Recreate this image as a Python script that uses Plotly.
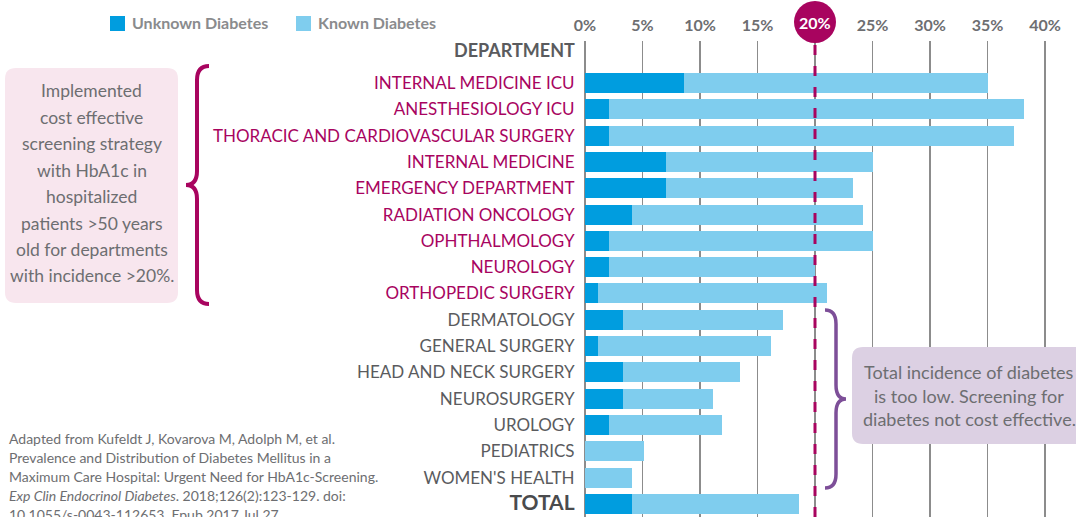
import plotly.graph_objects as go

departments = [
    "INTERNAL MEDICINE ICU", "ANESTHESIOLOGY ICU", "THORACIC AND CARDIOVASCULAR SURGERY",
    "INTERNAL MEDICINE", "EMERGENCY DEPARTMENT", "RADIATION ONCOLOGY", "OPHTHALMOLOGY",
    "NEUROLOGY", "ORTHOPEDIC SURGERY", "DERMATOLOGY", "GENERAL SURGERY",
    "HEAD AND NECK SURGERY", "NEUROSURGERY", "UROLOGY", "PEDIATRICS", "WOMEN'S HEALTH", "TOTAL",
]
unknown = [8.6, 2.1, 2.1, 7.0, 7.0, 4.1, 2.1, 2.1, 1.1, 3.3, 1.1, 3.3, 3.3, 2.1, 0.0, 0.0, 4.1]
total = [35.0, 38.2, 37.3, 25.0, 23.3, 24.2, 25.0, 20.0, 21.0, 17.2, 16.2, 13.5, 11.1, 11.9, 5.1, 4.1, 18.6]
known = [round(t - u, 2) for t, u in zip(total, unknown)]
above_threshold = [True] * 9 + [False] * 8
x_ticks = [0, 5, 10, 15, 20, 25, 30, 35, 40]
threshold = 20

W, H = 1076, 517
L, T = 585, 41
PW, PH = W - L, H - T
PX_PER_PCT = 11.5

def px(x):
    return (x - L) / PW

def py(y):
    return (H - y) / PH

MAGENTA = "#a8045f"
PURPLE = "#7d4f98"
GRAY = "#6d6e71"
DARK = "#5a5b5e"
C_UNK = "#009ddf"
C_KNO = "#7fcdee"
FONT = "Lato"

ticktext = []
for d, a in zip(departments, above_threshold):
    if d == "TOTAL":
        ticktext.append(f"<b><span style='color:#4a4b4d;font-size:21px'>{d}</span></b>")
    elif a:
        ticktext.append(f"<span style='color:{MAGENTA}'>{d}</span>")
    else:
        ticktext.append(f"<span style='color:{DARK}'>{d}</span>")

fig = go.Figure()
fig.add_trace(go.Bar(y=departments, x=unknown, orientation="h", name="Unknown Diabetes",
                     marker=dict(color=C_UNK, line=dict(width=0))))
fig.add_trace(go.Bar(y=departments, x=known, orientation="h", name="Known Diabetes",
                     marker=dict(color=C_KNO, line=dict(width=0))))

fig.update_layout(
    width=W, height=H, barmode="stack", bargap=0.24, showlegend=False,
    margin=dict(l=L, r=0, t=T, b=0, pad=0),
    paper_bgcolor="white", plot_bgcolor="white",
    font=dict(family=FONT, color=DARK, size=17),
    xaxis=dict(range=[0, PW / PX_PER_PCT], side="top", tickvals=x_ticks,
               ticktext=[f"<b>{v}%</b>" if v != threshold else "" for v in x_ticks],
               tickfont=dict(size=16, color=GRAY, family=FONT),
               showgrid=True, gridcolor="#8c8c8c", gridwidth=1.5,
               zeroline=True, zerolinecolor="#8c8c8c", zerolinewidth=1.5,
               showline=False, ticks="", ticklabelstandoff=6, fixedrange=True),
    yaxis=dict(type="category", categoryorder="array", categoryarray=departments,
               range=[16.5, -1.6], tickvals=departments, ticktext=ticktext,
               tickfont=dict(size=17, family=FONT),
               ticks="outside", ticklen=6, tickcolor="rgba(0,0,0,0)",
               showgrid=False, zeroline=False, showline=False, fixedrange=True),
)

shapes = []
annotations = []

# threshold dashed line
shapes.append(dict(type="line", xref="x", yref="paper", x0=threshold, x1=threshold, y0=0, y1=py(43),
                   line=dict(color=MAGENTA, width=3, dash="10px,11px"), layer="above"))
cx = L + threshold * PX_PER_PCT
shapes.append(dict(type="circle", xref="paper", yref="paper", x0=px(cx - 21), x1=px(cx + 21),
                   y0=py(43), y1=py(1), fillcolor=MAGENTA, line=dict(width=0), layer="above"))
annotations.append(dict(xref="paper", yref="paper", x=px(cx), y=py(23), text="<b>20%</b>",
                        showarrow=False, xanchor="center", yanchor="middle",
                        font=dict(size=16, color="white", family=FONT)))

# DEPARTMENT header
annotations.append(dict(xref="paper", yref="paper", x=px(577), y=py(50), xanchor="right", yanchor="middle",
                        text="<b>DEPARTMENT</b>", showarrow=False, font=dict(size=18, color=DARK, family=FONT)))

# legend (manual)
for (x0, lbl, col) in [(110, "Unknown Diabetes", C_UNK), (296, "Known Diabetes", C_KNO)]:
    shapes.append(dict(type="rect", xref="paper", yref="paper", x0=px(x0), x1=px(x0 + 15),
                       y0=py(31), y1=py(16), fillcolor=col, line=dict(width=0)))
    annotations.append(dict(xref="paper", yref="paper", x=px(x0 + 20), y=py(23), xanchor="left",
                            yanchor="middle", text=f"<b>{lbl}</b>", showarrow=False,
                            font=dict(size=16, color="#8a8b8d", family=FONT)))

def rounded_rect(x0, y0, x1, y1, r):
    pts = [
        f"M{px(x0 + r)},{py(y0)}", f"L{px(x1 - r)},{py(y0)}", f"Q{px(x1)},{py(y0)} {px(x1)},{py(y0 + r)}",
        f"L{px(x1)},{py(y1 - r)}", f"Q{px(x1)},{py(y1)} {px(x1 - r)},{py(y1)}",
        f"L{px(x0 + r)},{py(y1)}", f"Q{px(x0)},{py(y1)} {px(x0)},{py(y1 - r)}",
        f"L{px(x0)},{py(y0 + r)}", f"Q{px(x0)},{py(y0)} {px(x0 + r)},{py(y0)}", "Z",
    ]
    return " ".join(pts)

def brace(xend, xspine, xtip, yt, yb, r):
    ym = (yt + yb) / 2
    pts = [
        f"M{px(xend)},{py(yt)}", f"Q{px(xspine)},{py(yt)} {px(xspine)},{py(yt + r)}",
        f"L{px(xspine)},{py(ym - r)}", f"Q{px(xspine)},{py(ym)} {px(xtip)},{py(ym)}",
        f"Q{px(xspine)},{py(ym)} {px(xspine)},{py(ym + r)}",
        f"L{px(xspine)},{py(yb - r)}", f"Q{px(xspine)},{py(yb)} {px(xend)},{py(yb)}",
    ]
    return " ".join(pts)

# left box
shapes.append(dict(type="path", xref="paper", yref="paper", path=rounded_rect(5, 68, 178, 303, 11),
                   fillcolor="#f8e6ee", line=dict(width=0), layer="above"))
left_lines = ["Implemented", "cost effective", "screening strategy", "with HbA1c in", "hospitalized",
              "patients >50 years", "old for departments", "with incidence >20%."]
for i, t in enumerate(left_lines):
    annotations.append(dict(xref="paper", yref="paper", x=px(92), y=py(91 + i * 26.4), text=t,
                            showarrow=False, xanchor="center", yanchor="middle",
                            font=dict(size=17.5, color=GRAY, family=FONT)))
shapes.append(dict(type="path", xref="paper", yref="paper", path=brace(209, 197, 186, 66, 304, 14),
                   line=dict(color=MAGENTA, width=4), layer="above"))

# right box
shapes.append(dict(type="path", xref="paper", yref="paper", path=rounded_rect(852, 347, 1090, 444, 11),
                   fillcolor="#dcd0e3", line=dict(width=0), layer="above"))
right_lines = ["Total incidence of diabetes", "is too low. Screening for", "diabetes not cost effective."]
for i, t in enumerate(right_lines):
    annotations.append(dict(xref="paper", yref="paper", x=px(969), y=py(372 + i * 23.5), text=t,
                            showarrow=False, xanchor="center", yanchor="middle",
                            font=dict(size=18, color=GRAY, family=FONT)))
shapes.append(dict(type="path", xref="paper", yref="paper", path=brace(825, 836, 846, 310, 488, 14),
                   line=dict(color=PURPLE, width=3.5), layer="above"))

# source
src_lines = [
    "Adapted from Kufeldt J, Kovarova M, Adolph M, et al.",
    "Prevalence and Distribution of Diabetes Mellitus in a",
    "Maximum Care Hospital: Urgent Need for HbA1c-Screening.",
    "<i>Exp Clin Endocrinol Diabetes</i>. 2018;126(2):123-129. doi:",
    "10.1055/s-0043-112653. Epub 2017 Jul 27.",
]
for i, t in enumerate(src_lines):
    annotations.append(dict(xref="paper", yref="paper", x=px(7), y=py(438 + i * 19.2), text=t,
                            showarrow=False, xanchor="left", yanchor="middle",
                            font=dict(size=14, color=GRAY, family=FONT)))

fig.update_layout(shapes=shapes, annotations=annotations)
fig.write_html("out.html", config={"displayModeBar": False, "staticPlot": True},
               post_script="document.body.style.margin='0';document.body.style.padding='0';"
                           "document.documentElement.style.overflow='hidden';")
